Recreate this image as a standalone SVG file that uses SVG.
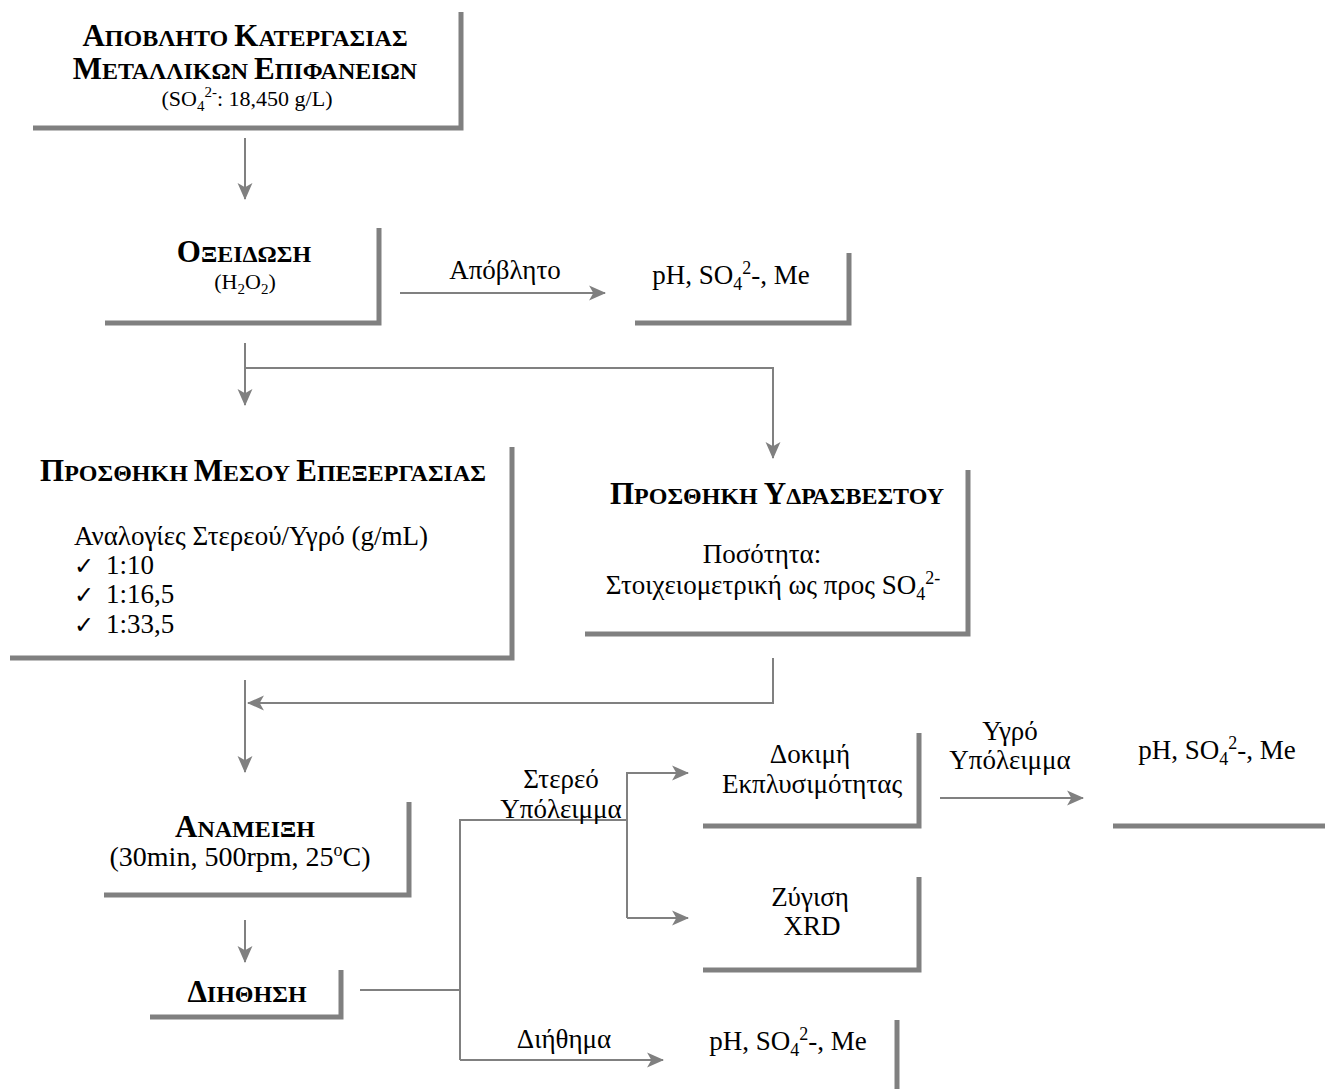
<svg xmlns="http://www.w3.org/2000/svg" width="1325" height="1089" viewBox="0 0 1325 1089">
  <style>
    text { font-family: "Liberation Serif", "Times New Roman", serif; fill: #000; }
    .t { font-size: 27px; }
    .t28 { font-size: 28px; }
    .s { font-size: 22px; }
    .c { text-anchor: middle; }
    .h { font-size: 24px; font-weight: bold; text-anchor: middle; }
    .big { font-size: 31px; }
    .sub { font-size: 18px; }
    .sub2 { font-size: 15px; }
    .frame { fill: none; stroke: #808080; stroke-width: 5; }
    .conn { fill: none; stroke: #808080; stroke-width: 2; }
    .chk { font-family: "DejaVu Sans", sans-serif; font-size: 24px; }
  </style>
  <defs>
    <marker id="arrow" viewBox="0 0 16 16" refX="15" refY="8" markerWidth="17" markerHeight="17" markerUnits="userSpaceOnUse" orient="auto">
      <path d="M0,1 L16,8 L0,15 L4,8 z" fill="#808080"/>
    </marker>
  </defs>

  <!-- process steps: each frame is an L-shaped shadow (right + bottom edges) -->
  <g id="waste">
    <path class="frame" d="M33,128 H461 V12"/>
    <text class="h" x="245" y="46"><tspan class="big">Α</tspan>ΠΟΒΛΗΤΟ <tspan class="big">Κ</tspan>ΑΤΕΡΓΑΣΙΑΣ</text>
    <text class="h" x="245" y="79"><tspan class="big">Μ</tspan>ΕΤΑΛΛΙΚΩΝ <tspan class="big">Ε</tspan>ΠΙΦΑΝΕΙΩΝ</text>
    <text class="s c" x="247" y="106">(SO<tspan class="sub2" dy="5">4</tspan><tspan class="sub2" dy="-14">2-</tspan><tspan dy="9">: 18,450 g/L)</tspan></text>
  </g>

  <g id="oxidation">
    <path class="frame" d="M105,323 H379 V228"/>
    <text class="h" x="244" y="262"><tspan class="big">Ο</tspan>ΞΕΙΔΩΣΗ</text>
    <text class="s c" x="245" y="289">(H<tspan class="sub2" dy="5">2</tspan><tspan dy="-5">O</tspan><tspan class="sub2" dy="5">2</tspan><tspan dy="-5">)</tspan></text>
  </g>

  <g id="analysis-oxidation">
    <path class="frame" d="M635,323 H849 V253"/>
    <text class="t c" x="731" y="284">pH, SO<tspan class="sub" dy="6">4</tspan><tspan class="sub" dy="-16">2</tspan><tspan dy="10">-, Me</tspan></text>
  </g>

  <g id="medium">
    <path class="frame" d="M10,658 H512 V447"/>
    <text class="h" x="263" y="481"><tspan class="big">Π</tspan>ΡΟΣΘΗΚΗ <tspan class="big">Μ</tspan>ΕΣΟΥ <tspan class="big">Ε</tspan>ΠΕΞΕΡΓΑΣΙΑΣ</text>
    <text class="t" x="74" y="545">Αναλογίες Στερεού/Υγρό (g/mL)</text>
    <text class="chk" x="74" y="574">✓</text>
    <text class="t" x="106" y="574">1:10</text>
    <text class="chk" x="74" y="603">✓</text>
    <text class="t" x="106" y="603">1:16,5</text>
    <text class="chk" x="74" y="633">✓</text>
    <text class="t" x="106" y="633">1:33,5</text>
  </g>

  <g id="lime">
    <path class="frame" d="M585,634 H968 V470"/>
    <text class="h" x="777" y="504"><tspan class="big">Π</tspan>ΡΟΣΘΗΚΗ <tspan class="big">Υ</tspan>ΔΡΑΣΒΕΣΤΟΥ</text>
    <text class="t c" x="762" y="563">Ποσότητα:</text>
    <text class="t c" x="773" y="594">Στοιχειομετρική ως προς SO<tspan class="sub" dy="6">4</tspan><tspan class="sub" dy="-16">2-</tspan></text>
  </g>

  <g id="mixing">
    <path class="frame" d="M104,895 H409 V802"/>
    <text class="h" x="245" y="837"><tspan class="big">Α</tspan>ΝΑΜΕΙΞΗ</text>
    <text class="t28 c" x="240" y="866">(30min, 500rpm, 25<tspan class="sub" dy="-10">o</tspan><tspan dy="10">C)</tspan></text>
  </g>

  <g id="filtration">
    <path class="frame" d="M150,1017 H341 V970"/>
    <text class="h" x="247" y="1002"><tspan class="big">Δ</tspan>ΙΗΘΗΣΗ</text>
  </g>

  <g id="leaching">
    <path class="frame" d="M703,826 H919 V733"/>
    <text class="t c" x="810" y="763">Δοκιμή</text>
    <text class="t c" x="812" y="793">Εκπλυσιμότητας</text>
  </g>

  <g id="analysis-leachate">
    <path class="frame" d="M1113,826 H1325"/>
    <text class="t c" x="1217" y="759">pH, SO<tspan class="sub" dy="6">4</tspan><tspan class="sub" dy="-16">2</tspan><tspan dy="10">-, Me</tspan></text>
  </g>

  <g id="weighing">
    <path class="frame" d="M703,970 H919 V877"/>
    <text class="t c" x="810" y="906">Ζύγιση</text>
    <text class="t c" x="812" y="935">XRD</text>
  </g>

  <g id="analysis-filtrate">
    <path class="frame" d="M897,1020 V1089"/>
    <text class="t c" x="788" y="1050">pH, SO<tspan class="sub" dy="6">4</tspan><tspan class="sub" dy="-16">2</tspan><tspan dy="10">-, Me</tspan></text>
  </g>

  <!-- flow connectors -->
  <g id="connectors">
    <path class="conn" d="M245,138 V199" marker-end="url(#arrow)"/>
    <path class="conn" d="M400,293 H605" marker-end="url(#arrow)"/>
    <path class="conn" d="M245,343 V405" marker-end="url(#arrow)"/>
    <path class="conn" d="M245,368 H773 V458" marker-end="url(#arrow)"/>
    <path class="conn" d="M773,658 V703 H248" marker-end="url(#arrow)"/>
    <path class="conn" d="M245,680 V772" marker-end="url(#arrow)"/>
    <path class="conn" d="M245,920 V962" marker-end="url(#arrow)"/>
    <path class="conn" d="M360,990 H460"/>
    <path class="conn" d="M460,1060 V820 H627"/>
    <path class="conn" d="M627,918 V773 H688" marker-end="url(#arrow)"/>
    <path class="conn" d="M627,918 H688" marker-end="url(#arrow)"/>
    <path class="conn" d="M460,1060 H663" marker-end="url(#arrow)"/>
    <path class="conn" d="M940,798 H1083" marker-end="url(#arrow)"/>
  </g>

  <!-- connector labels -->
  <g id="labels">
    <text class="t c" x="505" y="279">Απόβλητο</text>
    <text class="t c" x="561" y="788">Στερεό</text>
    <text class="t c" x="561" y="818">Υπόλειμμα</text>
    <text class="t c" x="1010" y="740">Υγρό</text>
    <text class="t c" x="1010" y="769">Υπόλειμμα</text>
    <text class="t c" x="564" y="1048">Διήθημα</text>
  </g>
</svg>
